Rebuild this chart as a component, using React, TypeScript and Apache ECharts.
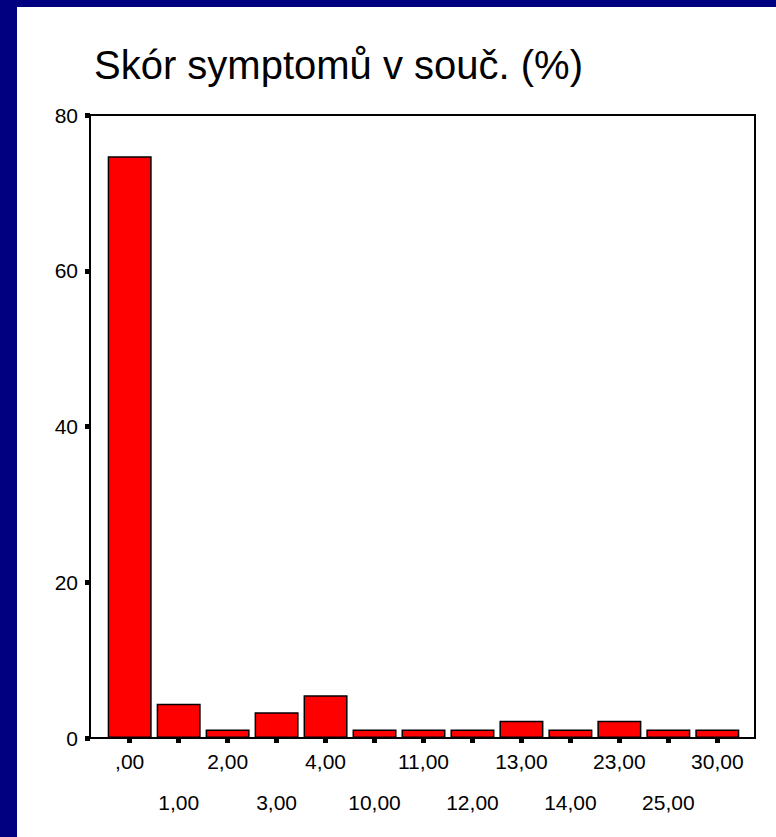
import React, { useEffect, useRef } from "react";
import * as echarts from "echarts";

const titleText = "Skór symptomů v souč. (%)";
const categories = [",00", "1,00", "2,00", "3,00", "4,00", "10,00", "11,00", "12,00", "13,00", "14,00", "23,00", "25,00", "30,00"];
const percents = [74.7, 4.4, 1.1, 3.3, 5.5, 1.1, 1.1, 1.1, 2.2, 1.1, 2.2, 1.1, 1.1];
const yMin = 0;
const yMax = 80;
const yStep = 20;

const FONT = "'Liberation Sans', Arial, Helvetica, sans-serif";

export default function App() {
  const ref = useRef<HTMLDivElement>(null);
  useEffect(() => {
    if (!ref.current) return;
    const chart = echarts.init(ref.current, null, { renderer: "svg" });
    chart.setOption({
      animation: false,
      title: {
        text: titleText,
        left: 89,
        top: 40,
        textStyle: { fontFamily: FONT, fontSize: 40, fontWeight: "normal", color: "#000" },
      },
      grid: [
        { left: 90, right: 21, top: 115, bottom: 99, show: true, borderColor: "#000", borderWidth: 2, backgroundColor: "#fff" },
        { left: 105.2, right: 34.2, top: 115, bottom: 99 },
      ],
      xAxis: [
        {
          gridIndex: 0,
          type: "value",
          min: 0,
          max: 1,
          axisLine: { show: true, lineStyle: { color: "#000", width: 2 } },
          axisTick: { show: false },
          axisLabel: { show: false },
          splitLine: { show: false },
        },
        {
          gridIndex: 1,
          type: "category",
          data: categories,
          axisLine: { show: false },
          axisTick: { show: true, alignWithLabel: true, length: 5, lineStyle: { color: "#000", width: 5 } },
          axisLabel: {
            interval: 0,
            margin: 3,
            fontFamily: FONT,
            fontSize: 21,
            color: "#000",
            lineHeight: 41,
            formatter: (v: string, i: number) => (i % 2 === 1 ? "\n" + v : v),
          },
        },
      ],
      yAxis: [
        {
          gridIndex: 0,
          type: "value",
          min: yMin,
          max: yMax,
          interval: yStep,
          axisLine: { show: true, lineStyle: { color: "#000", width: 2 } },
          axisTick: { show: true, length: 5, lineStyle: { color: "#000", width: 5 } },
          axisLabel: { margin: 12, fontFamily: FONT, fontSize: 21, color: "#000" },
          splitLine: { show: false },
        },
        {
          gridIndex: 1,
          type: "value",
          min: yMin,
          max: yMax,
          interval: yStep,
          show: false,
          splitLine: { show: false },
        },
      ],
      series: [
        {
          type: "bar",
          xAxisIndex: 1,
          yAxisIndex: 1,
          data: percents,
          barWidth: 44,
          itemStyle: { color: "#ff0000", borderColor: "#000", borderWidth: 1.5 },
        },
      ],
    });
    return () => chart.dispose();
  }, []);
  return (
    <div style={{ position: "absolute", left: 0, top: 0, width: 776, height: 837, background: "#000080" }}>
      <div style={{ position: "absolute", left: 17, top: 7, width: 759, height: 830, background: "#fff" }} />
      <div ref={ref} style={{ position: "absolute", left: 0, top: 0, width: 776, height: 837 }} />
    </div>
  );
}
